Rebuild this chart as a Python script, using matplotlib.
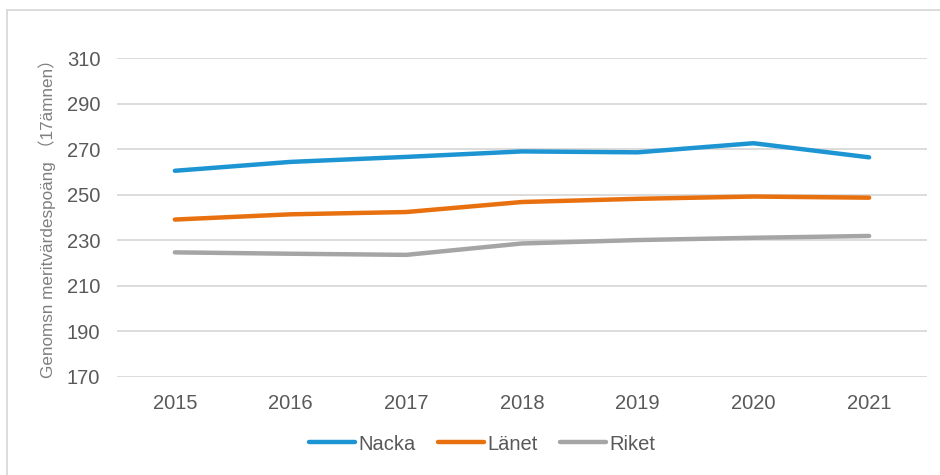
import matplotlib
matplotlib.use("Agg")
import matplotlib.pyplot as plt
from matplotlib.lines import Line2D

years = ["2015", "2016", "2017", "2018", "2019", "2020", "2021"]
nacka = [260.5, 264.4, 266.6, 269.0, 268.6, 272.6, 266.4]
lanet = [239.1, 241.4, 242.4, 246.8, 248.2, 249.2, 248.7]
riket = [224.7, 224.1, 223.6, 228.6, 230.1, 231.1, 231.9]

series = [("Nacka", nacka, "#1E95D3"),
          ("Länet", lanet, "#E8700E"),
          ("Riket", riket, "#A5A5A5")]

plt.rcParams["font.family"] = ["Liberation Sans", "Noto Sans CJK SC", "DejaVu Sans"]

fig = plt.figure(figsize=(9.4, 4.75), dpi=100)
ax = fig.add_axes([117 / 940, 1 - 377 / 475, 810 / 940, 319 / 475])

x = list(range(len(years)))
for name, vals, col in series:
    ax.plot(x, vals, color=col, linewidth=3.2, solid_capstyle="round",
            solid_joinstyle="round", label=name)

ax.set_xlim(-0.5, len(years) - 0.5)
ax.set_ylim(170, 310)
ax.set_yticks(range(170, 311, 20))
ax.set_xticks(x)
ax.set_xticklabels(years)
ax.yaxis.grid(True, color="#D9D9D9", linewidth=1.3)
ax.set_axisbelow(True)
for s in ax.spines.values():
    s.set_visible(False)
ax.tick_params(length=0, labelsize=14.5, labelcolor="#595959")
ax.tick_params(axis="x", pad=12)
ax.tick_params(axis="y", pad=12)
ax.set_ylabel("Genomsn meritvärdespoäng （17ämnen）", fontsize=12.3,
              color="#7F7F7F")
ax.yaxis.set_label_coords(-0.075, 0.51)

leg = fig.legend(loc="center", bbox_to_anchor=(482 / 940, 1 - 444 / 475),
                 ncol=3, frameon=False, fontsize=14.5, handlelength=2.3,
                 handletextpad=0.15, columnspacing=1.1)
for t in leg.get_texts():
    t.set_color("#595959")

# outer chart border (left and top edges visible)
fig.add_artist(Line2D([7 / 940, 7 / 940], [0, 1 - 10 / 475],
                      transform=fig.transFigure, color="#D9D9D9", linewidth=1.3))
fig.add_artist(Line2D([7 / 940, 1], [1 - 10 / 475, 1 - 10 / 475],
                      transform=fig.transFigure, color="#D9D9D9", linewidth=1.3))

fig.savefig("out.png", dpi=100, facecolor="white")
